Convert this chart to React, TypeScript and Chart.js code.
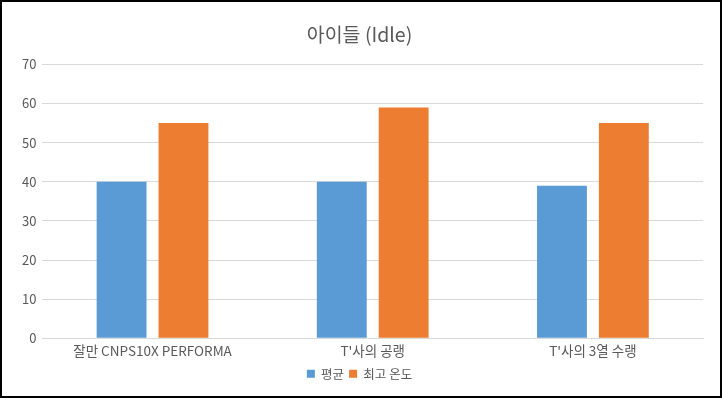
import React, { useEffect, useRef } from "react";
import { Chart, registerables } from "chart.js";

Chart.register(...registerables);

const categories = ["잘만 CNPS10X PERFORMA", "T'사의 공랭", "T'사의 3열 수랭"];
const avgValues = [40, 40, 39];
const maxValues = [55, 59, 55];
const seriesNames = ["평균", "최고 온도"];
const titleText = "아이들 (Idle)";

const FONT = "'Noto Sans CJK KR', 'Noto Sans', sans-serif";

export default function App() {
  const ref = useRef<HTMLCanvasElement | null>(null);
  useEffect(() => {
    document.body.style.margin = "0";
    const ctx = ref.current!;
    const chart = new Chart(ctx, {
      type: "bar",
      data: {
        labels: categories,
        datasets: [
          { label: seriesNames[0], data: avgValues, backgroundColor: "#5b9bd5" },
          { label: seriesNames[1], data: maxValues, backgroundColor: "#ed7d31" },
        ],
      },
      options: {
        animation: false,
        responsive: true,
        maintainAspectRatio: false,
        layout: { padding: { left: 14, right: 17, top: 8, bottom: 6 } },
        datasets: { bar: { categoryPercentage: 0.562, barPercentage: 0.806 } } as any,
        plugins: {
          title: {
            display: true,
            text: titleText,
            color: "#595959",
            font: { family: FONT, size: 19.5, weight: "normal" },
            padding: { top: 13, bottom: 18 },
          },
          legend: {
            position: "bottom",
            labels: {
              color: "#595959",
              font: { family: FONT, size: 12.5 },
              boxWidth: 8,
              boxHeight: 8,
              padding: 5,
            },
          },
          tooltip: { enabled: false },
        },
        scales: {
          x: {
            grid: { display: false, drawTicks: false },
            border: { color: "#d9d9d9" },
            ticks: { color: "#595959", font: { family: FONT, size: 13.5 }, padding: 4 },
          },
          y: {
            min: 0,
            max: 70,
            ticks: { stepSize: 10, color: "#595959", font: { family: FONT, size: 13 }, padding: 6 },
            grid: { color: "#d9d9d9", drawTicks: false },
            border: { display: false },
          },
        },
      },
    });
    return () => chart.destroy();
  }, []);
  return (
    <div
      style={{
        position: "absolute",
        left: 0,
        top: 0,
        width: 722,
        height: 398,
        boxSizing: "border-box",
        border: "2px solid #000",
        background: "#fff",
      }}
    >
      <canvas ref={ref} />
    </div>
  );
}
